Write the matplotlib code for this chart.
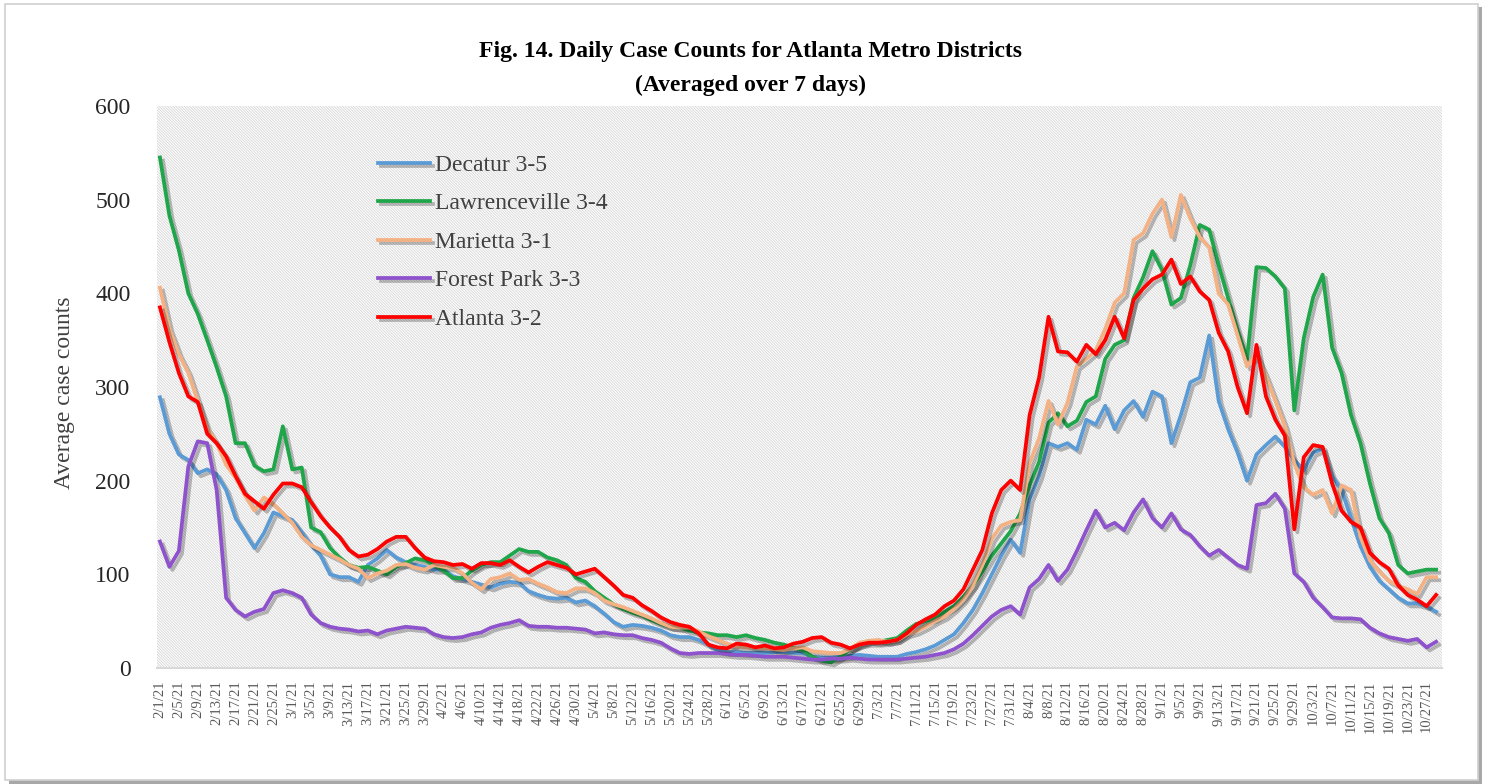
import numpy as np
import pandas as pd
import matplotlib
matplotlib.use('Agg')
import matplotlib.pyplot as plt
import matplotlib.patheffects as pe
from matplotlib.patches import Rectangle

plt.rcParams['font.family'] = ['Liberation Serif', 'DejaVu Serif']
plt.rcParams['hatch.linewidth'] = 0.5

# one value every 2 days, 2/1/21 .. 10/29/21
dates = pd.date_range('2021-02-01', '2021-10-29', freq='2D')
tick_dates = pd.date_range('2021-02-01', '2021-10-27', freq='4D')

decatur = [289, 250, 228, 222, 208, 212, 207, 190, 160, 144,
           128, 144, 166, 162, 158, 145, 131, 120, 100, 97,
           97, 92, 110, 117, 126, 118, 113, 110, 108, 105,
           105, 98, 95, 92, 89, 86, 90, 92, 91, 82,
           78, 75, 74, 75, 70, 72, 66, 58, 49, 44,
           46, 45, 43, 40, 35, 33, 33, 30, 25, 19,
           17, 17, 16, 16, 16, 17, 17, 16, 16, 12,
           11, 11, 12, 13, 14, 13, 12, 12, 12, 15,
           17, 20, 24, 30, 36, 48, 62, 80, 100, 120,
           137, 123, 180, 205, 240, 236, 240, 233, 265, 260,
           280, 255, 275, 285, 268, 295, 290, 240, 270, 305,
           310, 355, 285, 255, 230, 200, 228, 238, 247, 236,
           222, 211, 230, 234, 205, 190, 160, 130, 108, 93,
           84, 75, 69, 69, 66, 60]

lawrenceville = [545, 483, 446, 400, 378, 350, 321, 290, 240, 240,
                 216, 210, 212, 258, 212, 214, 150, 145, 128, 118,
                 110, 107, 108, 104, 100, 108, 112, 117, 115, 110,
                 104, 96, 96, 104, 110, 113, 113, 120, 127, 124,
                 124, 118, 115, 110, 96, 92, 82, 75, 68, 63,
                 59, 56, 51, 47, 44, 43, 40, 38, 37, 35,
                 35, 33, 35, 32, 30, 27, 25, 22, 19, 12,
                 8, 6, 12, 20, 25, 29, 28, 30, 32, 40,
                 47, 50, 53, 60, 66, 76, 88, 103, 120, 133,
                 146, 165, 195, 220, 262, 272, 258, 264, 284, 290,
                 330, 345, 350, 395, 417, 445, 425, 388, 395, 430,
                 473, 468, 430, 395, 360, 330, 428, 427, 418, 405,
                 275, 352, 396, 420, 342, 315, 270, 240, 197, 160,
                 144, 110, 101, 103, 105, 105]

marietta = [406, 362, 335, 315, 285, 256, 240, 217, 203, 184,
            168, 182, 175, 165, 155, 140, 131, 126, 121, 116,
            110, 106, 96, 101, 104, 110, 111, 107, 105, 110,
            108, 107, 101, 91, 84, 95, 97, 101, 94, 95,
            90, 86, 81, 80, 85, 85, 80, 72, 68, 65,
            61, 57, 53, 48, 44, 43, 43, 39, 34, 30,
            26, 23, 22, 22, 21, 20, 19, 21, 22, 18,
            17, 16, 16, 20, 27, 29, 30, 28, 30, 36,
            39, 44, 50, 55, 63, 73, 88, 110, 138, 152,
            156, 158, 219, 245, 285, 260, 283, 322, 330, 339,
            362, 390, 400, 457, 464, 485, 500, 460, 505, 480,
            460, 449, 400, 388, 355, 322, 335, 311, 285, 258,
            218, 193, 185, 190, 165, 195, 190, 140, 115, 103,
            93, 88, 84, 79, 97, 97]

forest_park = [135, 108, 125, 215, 242, 240, 190, 75, 62, 55,
               60, 63, 80, 83, 80, 75, 57, 48, 44, 42,
               41, 39, 40, 36, 40, 42, 44, 43, 42, 36,
               33, 32, 33, 36, 38, 43, 46, 48, 51, 45,
               44, 44, 43, 43, 42, 41, 37, 38, 36, 35,
               35, 32, 30, 27, 21, 16, 15, 16, 16, 16,
               15, 14, 14, 13, 12, 12, 12, 11, 10, 9,
               9, 10, 10, 11, 10, 9, 9, 9, 9, 10,
               11, 12, 14, 16, 20, 26, 35, 45, 55, 62,
               66, 57, 86, 95, 110, 93, 105, 125, 147, 168,
               150, 155, 147, 166, 180, 160, 150, 165, 148, 142,
               130, 120, 126, 118, 110, 106, 174, 176, 186, 170,
               101, 92, 75, 65, 54, 53, 53, 52, 43, 37,
               33, 31, 29, 31, 22, 28]

atlanta = [385, 348, 315, 290, 284, 250, 240, 226, 205, 186,
           178, 170, 185, 197, 197, 193, 177, 162, 150, 140,
           126, 119, 121, 127, 135, 140, 140, 128, 118, 114,
           113, 110, 111, 106, 112, 112, 110, 115, 108, 102,
           108, 113, 110, 107, 100, 103, 106, 97, 88, 78,
           75, 67, 61, 54, 49, 46, 44, 37, 25, 22,
           21, 26, 25, 22, 24, 21, 22, 26, 28, 32,
           33, 27, 25, 21, 25, 27, 27, 28, 30, 37,
           46, 52, 57, 66, 72, 84, 105, 126, 165, 190,
           200, 190, 270, 310, 375, 338, 337, 327, 345, 335,
           350, 375, 352, 393, 405, 415, 420, 436, 410, 418,
           402, 393, 358, 338, 300, 272, 345, 290, 265, 248,
           148, 225, 238, 236, 197, 168, 156, 150, 123, 113,
           106, 88, 78, 73, 66, 78]

names = ['Decatur 3-5', 'Lawrenceville 3-4', 'Marietta 3-1', 'Forest Park 3-3', 'Atlanta 3-2']
series = [decatur, lawrenceville, marietta, forest_park, atlanta]
colors = ['#5B9BD5', '#1FA64A', '#F4B183', '#8E52CC', '#FF0000']

W, H = 1489, 784
fig = plt.figure(figsize=(W / 100, H / 100), dpi=100)
fig.patch.set_facecolor('white')

# outer frame with a drop shadow
fig.patches.append(Rectangle((9 / W, 0), 1473 / W, 777 / H, transform=fig.transFigure,
                             facecolor='#a8a8a8', edgecolor='none', zorder=-3))
fig.patches.append(Rectangle((5 / W, 4 / H), 1473 / W, 776 / H, transform=fig.transFigure,
                             facecolor='white', edgecolor='#d0d0d0', lw=1.2, zorder=-2))

ax = fig.add_axes([157 / W, 1 - 668 / H, (1442 - 157) / W, (668 - 106) / H])
ax.set_facecolor('white')
ax.add_patch(Rectangle((0, 0), 1, 1, transform=ax.transAxes, facecolor='#fcfcfc',
                       edgecolor='#d2d2d2', hatch='\\' * 12, lw=0, zorder=0))

shadow = [pe.SimpleLineShadow(offset=(2.2, -2.2), shadow_color='k', alpha=0.25), pe.Normal()]
for name, vals, c in zip(names, series, colors):
    ax.plot(dates, vals, color=c, lw=2.7, label=name, solid_joinstyle='round',
            path_effects=shadow, zorder=3)

ax.set_ylim(0, 600)
ax.set_xlim(dates[0] - pd.Timedelta(hours=15), dates[-1] + pd.Timedelta(hours=30))
ax.set_yticks(range(0, 601, 100))
ax.tick_params(axis='y', length=0, pad=19, labelsize=17, labelcolor='#262626')

ax.set_xticks(tick_dates)
ax.set_xticklabels([f'{d.month}/{d.day}/21' for d in tick_dates], rotation=90)
ax.tick_params(axis='x', length=0, pad=9, labelsize=10.5, labelcolor='#595959')

for s in ['top', 'right', 'left']:
    ax.spines[s].set_visible(False)
ax.spines['bottom'].set_color('#d9d9d9')
ax.spines['bottom'].set_linewidth(1.5)

ax.set_ylabel('Average case counts', fontsize=17, color='#404040')
ax.yaxis.set_label_coords(-0.064, 0.49)

fig.text(0.504, 1 - 52 / H, 'Fig. 14. Daily Case Counts for Atlanta Metro Districts',
         ha='center', va='center', fontsize=17, fontweight='bold')
fig.text(0.504, 1 - 85 / H, '(Averaged over 7 days)',
         ha='center', va='center', fontsize=17, fontweight='bold')

leg = ax.legend(loc='upper left', bbox_to_anchor=(0.163, 0.935), frameon=False, fontsize=17,
                handlelength=2.2, handletextpad=0.2, labelspacing=0.72, borderpad=0)
for t in leg.get_texts():
    t.set_color('#404040')

fig.savefig('out.png', dpi=100)
